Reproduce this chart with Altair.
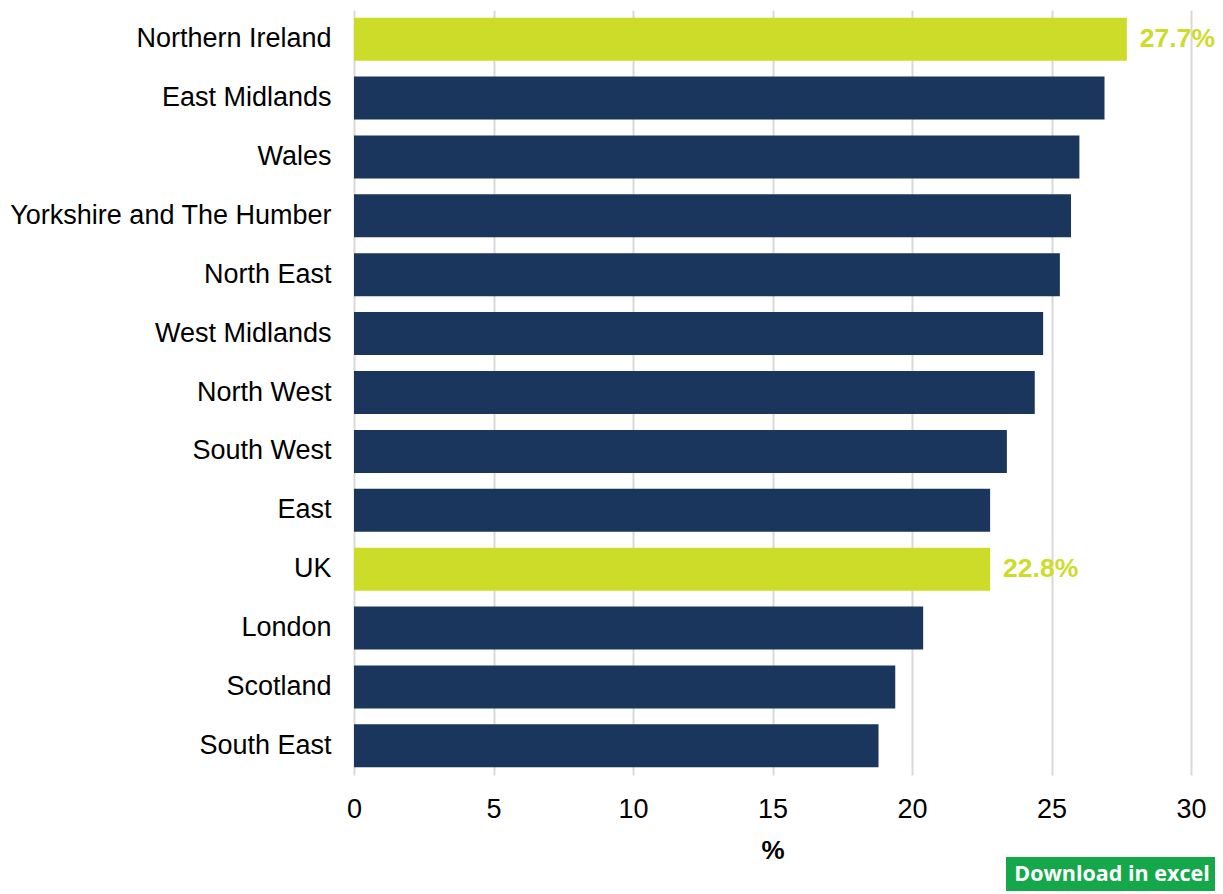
import altair as alt
import pandas as pd

regions = ["Northern Ireland", "East Midlands", "Wales", "Yorkshire and The Humber",
           "North East", "West Midlands", "North West", "South West", "East", "UK",
           "London", "Scotland", "South East"]
values = [27.7, 26.9, 26.0, 25.7, 25.3, 24.7, 24.4, 23.4, 22.8, 22.8, 20.4, 19.4, 18.8]
highlighted = ["Northern Ireland", "UK"]
x_ticks = [0, 5, 10, 15, 20, 25, 30]
x_title = "%"
button_text = ["Download in excel"]

df = pd.DataFrame({"region": regions, "value": values})
df["highlight"] = df["region"].isin(highlighted)
df["label"] = [f"{v:.1f}%" for v in values]

NAVY = "#1b365d"
LIME = "#cddc29"
FONT = "Liberation Sans"
W, H = 837, 765

base = alt.Chart(df)

y_enc = alt.Y(
    "region:N", sort=regions, title=None,
    scale=alt.Scale(paddingInner=0.27, paddingOuter=0.13),
    axis=alt.Axis(domain=False, ticks=False, grid=False, labelFont=FONT,
                  labelFontSize=27, labelColor="#000000", labelPadding=23,
                  labelLimit=400),
)
x_enc = alt.X(
    "value:Q", title=x_title,
    scale=alt.Scale(domain=[0, 30], nice=False),
    axis=alt.Axis(values=x_ticks, grid=True, gridColor="#d9d9d9", gridWidth=2,
                  domain=False, ticks=False, labelFlush=False, labelFont=FONT,
                  labelFontSize=27, labelColor="#000000", labelPadding=21,
                  titleFont=FONT, titleFontSize=26, titleFontWeight="bold",
                  titleColor="#000000", titlePadding=15),
)

bars = base.mark_bar(cornerRadius=0).encode(
    x=x_enc,
    y=y_enc,
    color=alt.condition("datum.highlight", alt.value(LIME), alt.value(NAVY)),
)

labels = base.transform_filter("datum.highlight").mark_text(
    align="left", baseline="middle", dx=13, font=FONT, fontSize=26.5,
    fontWeight="bold", color=LIME,
).encode(
    x="value:Q",
    y=alt.Y("region:N", sort=regions),
    text="label:N",
)

btn_df = pd.DataFrame({"t": button_text})
button = alt.Chart(btn_df).mark_rect(color="#14a84b").encode(
    x=alt.value(652), x2=alt.value(862), y=alt.value(847), y2=alt.value(881),
)
button_txt = alt.Chart(btn_df).mark_text(
    font="Open Sans", fontSize=21.5, fontWeight="bold", color="white",
    align="center", baseline="middle",
).encode(x=alt.value(758), y=alt.value(865), text="t:N")

chart = alt.layer(bars, labels, button, button_txt).properties(
    width=W, height=H,
    autosize=alt.AutoSizeParams(type="none"),
    padding={"left": 346, "top": 2, "right": 24, "bottom": 116},
).configure_view(stroke=None)

chart.save("out.html", embed_options={"renderer": "svg", "actions": False})
